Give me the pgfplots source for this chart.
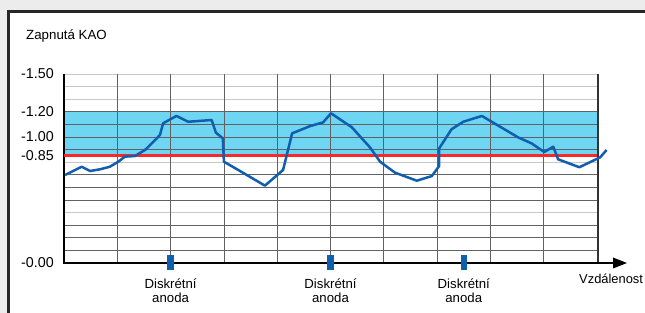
\documentclass[border=0pt]{standalone}
\usepackage{pgfplots}
\pgfplotsset{compat=1.18}
\usepackage{fontspec}
\setmainfont{Liberation Sans}
\definecolor{curveblue}{RGB}{16,94,174}
\definecolor{bandcyan}{RGB}{110,214,242}
\definecolor{redline}{RGB}{250,40,40}
\definecolor{outbg}{RGB}{236,236,236}
\begin{document}
\begin{tikzpicture}
\fill[outbg] (0,0) rectangle (645pt,313pt);
\filldraw[fill=white, draw=black!85, line width=2.5pt] (8.7pt,-20pt) rectangle (700pt,301.7pt);
\node[anchor=base west, inner sep=0pt, font=\fontsize{13.3}{14}\selectfont] at (26pt,273pt) {Zapnutá KAO};
\begin{axis}[
  at={(64pt,50pt)}, anchor=south west,
  scale only axis, width=533pt, height=189pt,
  xmin=0, xmax=10, ymin=0, ymax=15,
  clip=false,
  axis line style={draw=none},
  xtick=\empty,
  ytick={0,8.5,10,12,15},
  yticklabels={-0.00,-0.85,-1.00,-1.20,-1.50},
  major tick length=0pt,
  tick style={draw=none},
  /pgf/number format/assume math mode=true,
  yticklabel style={font=\fontsize{14.3}{15}\selectfont, inner sep=0pt, xshift=-10pt},
]
\addplot[fill=bandcyan, draw=none, forget plot] coordinates {(0,8.5) (10,8.5) (10,12) (0,12)} -- cycle;
\pgfplotsinvokeforeach{1,2,3,5,6,7,9,10,11,12}{\draw[black!62, line width=0.7pt] (axis cs:0,#1) -- (axis cs:10,#1);}
\pgfplotsinvokeforeach{4,8,13,14,15}{\draw[black!22, line width=0.7pt] (axis cs:0,#1) -- (axis cs:10,#1);}
\pgfplotsinvokeforeach{1,...,9}{\draw[black!62, line width=0.7pt] (axis cs:#1,0) -- (axis cs:#1,15);}
\draw[line width=2pt, black!80] (axis cs:10.02,0) -- (axis cs:10.02,15);
\draw[line width=2.5pt] (axis cs:0,-0.05) -- (axis cs:0,15);
\draw[line width=2pt] (axis cs:-0.02,0) -- ([xshift=18pt]axis cs:10,0);
\fill ([xshift=16pt,yshift=5.5pt]axis cs:10,0) -- ([xshift=16pt,yshift=-5.5pt]axis cs:10,0) -- ([xshift=30pt]axis cs:10,0) -- cycle;
\addplot[redline, line width=3pt, forget plot] coordinates {(0,8.5) (10,8.5)};
\addplot[curveblue, line width=2.5pt, line join=round, forget plot] coordinates {
(0.02,6.98) (0.33,7.64) (0.49,7.30) (0.68,7.44) (0.86,7.64) (1.02,8.04) (1.14,8.44)
(1.33,8.49) (1.52,8.97) (1.68,9.63) (1.80,10.16) (1.86,11.09) (2.11,11.67) (2.33,11.21)
(2.77,11.35) (2.85,10.34) (2.98,9.89) (3.00,8.04) (3.27,7.38) (3.77,6.14) (4.11,7.38)
(4.28,10.29) (4.62,10.87) (4.86,11.16) (5.01,11.88) (5.40,10.77) (5.74,9.18) (5.93,8.04)
(6.21,7.17) (6.62,6.53) (6.90,6.90) (7.04,7.70) (7.04,9.10) (7.27,10.61) (7.49,11.21)
(7.84,11.67) (8.18,10.82) (8.52,9.97) (8.77,9.50) (9.01,8.81) (9.18,9.23) (9.27,8.23)
(9.67,7.60) (10.06,8.39) (10.18,8.97)};
\addplot[curveblue, line width=6.3pt, forget plot] coordinates {(2,-0.56) (2,0.63)};
\addplot[curveblue, line width=6.3pt, forget plot] coordinates {(5,-0.56) (5,0.63)};
\addplot[curveblue, line width=6.3pt, forget plot] coordinates {(7.5,-0.56) (7.5,0.63)};
\node[anchor=base, inner sep=0pt, font=\fontsize{13.2}{14}\selectfont] at ([yshift=-25.3pt]axis cs:2,0) {Diskrétní};
\node[anchor=base, inner sep=0pt, font=\fontsize{13.2}{14}\selectfont] at ([yshift=-39.7pt]axis cs:2,0) {anoda};
\node[anchor=base, inner sep=0pt, font=\fontsize{13.2}{14}\selectfont] at ([yshift=-25.3pt]axis cs:5,0) {Diskrétní};
\node[anchor=base, inner sep=0pt, font=\fontsize{13.2}{14}\selectfont] at ([yshift=-39.7pt]axis cs:5,0) {anoda};
\node[anchor=base, inner sep=0pt, font=\fontsize{13.2}{14}\selectfont] at ([yshift=-25.3pt]axis cs:7.5,0) {Diskrétní};
\node[anchor=base, inner sep=0pt, font=\fontsize{13.2}{14}\selectfont] at ([yshift=-39.7pt]axis cs:7.5,0) {anoda};
\node[anchor=base west, inner sep=0pt, font=\fontsize{12.9}{14}\selectfont] at ([xshift=-18pt,yshift=-20.3pt]axis cs:10,0) {Vzdálenost};
\end{axis}
\pgfresetboundingbox
\useasboundingbox (0,0) rectangle (645pt,313pt);
\end{tikzpicture}
\end{document}
